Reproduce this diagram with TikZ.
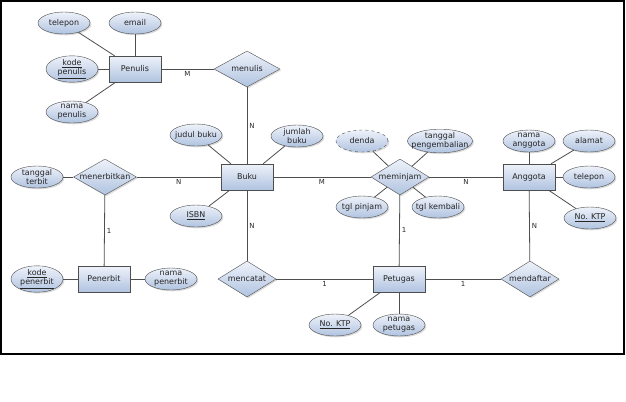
\documentclass[tikz,border=0pt]{standalone}
\usepackage{fontspec}
\setmainfont{DejaVu Sans}
\usetikzlibrary{shapes, shadows}
\definecolor{erline}{RGB}{78,78,78}
\definecolor{ertop}{RGB}{238,242,250}
\definecolor{erbot}{RGB}{176,195,224}
\tikzstyle{boxshadow} = [drop shadow={shadow xshift=1.3bp, shadow yshift=-1.3bp, opacity=0.3}]
\tikzstyle{entity} = [rectangle, draw=erline, top color=ertop, bottom color=erbot, boxshadow, minimum width=52bp, text centered, minimum height=26bp]
\tikzstyle{attr} = [ellipse, draw=erline, top color=ertop, bottom color=erbot, boxshadow, minimum width=52bp, minimum height=22bp, inner xsep=-4bp, inner ysep=0pt, align=center]
\tikzstyle{rel} = [diamond, draw=erline, top color=ertop, bottom color=erbot, boxshadow, aspect=2, inner sep=0pt, minimum width=58bp, minimum height=36bp]
\tikzstyle{card} = [font=\fontsize{7}{8}\selectfont, inner sep=2bp]
\tikzstyle{line} = [draw=erline, line width=0.8bp]

\begin{document}
\begin{tikzpicture}[x=1bp, y=-1bp, font=\fontsize{8}{9}\selectfont, text=black!85]
    \useasboundingbox (0,0) rectangle (626,401);
    \draw[line width=1.2bp] (1,1) rectangle (624,354);

    % entitas
    \node[entity] (penulis) at (135,69) {Penulis};
    \node[entity] (buku) at (247,177) {Buku};
    \node[entity] (penerbit) at (104,279) {Penerbit};
    \node[entity] (petugas) at (399,279) {Petugas};
    \node[entity] (anggota) at (529,177) {Anggota};

    % relasi
    \node[rel, minimum width=66bp] (menulis) at (247,69) {menulis};
    \node[rel] (menerbitkan) at (105,177) {menerbitkan};
    \node[rel] (meminjam) at (400,177) {meminjam};
    \node[rel] (mencatat) at (247,279) {mencatat};
    \node[rel] (mendaftar) at (530,279) {mendaftar};

    % atribut
    \node[attr] (telpPenulis) at (64,23) {telepon};
    \node[attr] (email) at (135,23) {email};
    \node[attr] (kodePenulis) at (72,69) {\underline{kode}\\\underline{penulis}};
    \node[attr] (namaPenulis) at (72,112) {nama\\penulis};
    \node[attr] (judul) at (196,135) {judul buku};
    \node[attr] (jumlah) at (297,136) {jumlah\\buku};
    \node[attr] (isbn) at (196,216) {\underline{ISBN}};
    \node[attr] (tglTerbit) at (37,177) {tanggal\\terbit};
    \node[attr] (kodePenerbit) at (37,279) {\underline{kode}\\\underline{penerbit}};
    \node[attr] (namaPenerbit) at (171,279) {nama\\penerbit};
    \node[attr, dashed] (denda) at (362,141) {denda};
    \node[attr, minimum width=65bp, inner xsep=-6bp] (tglKembaliAll) at (440,141) {tanggal\\pengembalian};
    \node[attr] (tglPinjam) at (362,207) {tgl pinjam};
    \node[attr] (tglKembali) at (438,207) {tgl kembali};
    \node[attr] (namaAnggota) at (529,141) {nama\\anggota};
    \node[attr] (alamat) at (589,141) {alamat};
    \node[attr] (telpAnggota) at (589,177) {telepon};
    \node[attr] (ktpAnggota) at (590,218) {\underline{No. KTP}};
    \node[attr] (ktpPetugas) at (335,325) {\underline{No. KTP}};
    \node[attr] (namaPetugas) at (399,325) {nama\\petugas};

    % relasi antar entitas
    \path[line] (penulis) -- node[card, below] {M} (menulis);
    \path[line] (menulis) -- node[card, right] {N} (buku);
    \path[line] (menerbitkan) -- node[card, below] {N} (buku);
    \path[line] (menerbitkan) -- node[card, right] {1} (penerbit);
    \path[line] (buku) -- node[card, right] {N} (mencatat);
    \path[line] (mencatat) -- node[card, below] {1} (petugas);
    \path[line] (petugas) -- node[card, below] {1} (mendaftar);
    \path[line] (mendaftar) -- node[card, right] {N} (anggota);
    \path[line] (buku) -- node[card, below] {M} (meminjam);
    \path[line] (meminjam) -- node[card, below] {N} (anggota);
    \path[line] (meminjam) -- node[card, right] {1} (petugas);

    % atribut ke entitas
    \path[line] (telpPenulis) -- (penulis);
    \path[line] (email) -- (penulis);
    \path[line] (kodePenulis) -- (penulis);
    \path[line] (namaPenulis) -- (penulis);
    \path[line] (judul) -- (buku);
    \path[line] (jumlah) -- (buku);
    \path[line] (isbn) -- (buku);
    \path[line] (tglTerbit) -- (menerbitkan);
    \path[line] (kodePenerbit) -- (penerbit);
    \path[line] (namaPenerbit) -- (penerbit);
    \path[line] (denda) -- (meminjam);
    \path[line] (tglKembaliAll) -- (meminjam);
    \path[line] (tglPinjam) -- (meminjam);
    \path[line] (tglKembali) -- (meminjam);
    \path[line] (namaAnggota) -- (anggota);
    \path[line] (alamat) -- (anggota);
    \path[line] (telpAnggota) -- (anggota);
    \path[line] (ktpAnggota) -- (anggota);
    \path[line] (ktpPetugas) -- (petugas);
    \path[line] (namaPetugas) -- (petugas);
\end{tikzpicture}
\end{document}
